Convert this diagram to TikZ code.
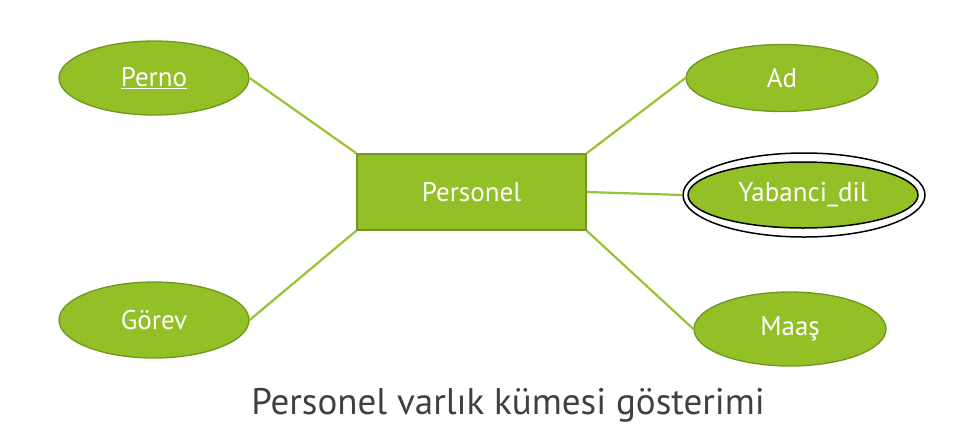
\documentclass[tikz,border=0pt]{standalone}
\usepackage{fontspec}
\setmainfont{PT Sans}
\usetikzlibrary{shapes.geometric}
\definecolor{gfill}{RGB}{146,192,38}
\definecolor{gdraw}{RGB}{112,150,30}
\definecolor{gline}{RGB}{150,196,50}
\definecolor{captc}{RGB}{64,64,64}
\begin{document}
\begin{tikzpicture}[x=1pt,y=-1pt,
  attr/.style={ellipse,draw=gdraw,fill=gfill,line width=1.3pt,inner sep=0pt,text=white,font=\fontsize{27}{32}\selectfont},
  ent/.style={rectangle,draw=gdraw,fill=gfill,line width=1.6pt,inner sep=0pt,text=white,font=\fontsize{27}{32}\selectfont},
  conn/.style={draw=gline,line width=2.2pt}]
\useasboundingbox (0,0) rectangle (960,432);
\node[ent,minimum width=229pt,minimum height=76pt] (pers) at (471.5,192) {Personel};
\node[attr,minimum width=190pt,minimum height=74pt] (perno) at (154,78) {\underline{Perno}};
\node[attr,minimum width=192pt,minimum height=67pt] (ad) at (782,78) {Ad};
\node[ellipse,draw=black,line width=1.5pt,fill=white,minimum width=242pt,minimum height=84pt,inner sep=0pt] (yabo) at (804,195) {};
\node[ellipse,draw=black,line width=1.5pt,fill=gfill,minimum width=230pt,minimum height=66pt,inner sep=0pt,text=white,font=\fontsize{27}{32}\selectfont] (yab) at (803,195) {Yabanci\_dil};
\node[attr,minimum width=190pt,minimum height=76pt] (gorev) at (154,320) {Görev};
\node[attr,minimum width=192pt,minimum height=74pt] (maas) at (790,329) {Maaş};
\draw[conn] (perno.east) -- (pers.north west);
\draw[conn] (ad.west) -- (pers.north east);
\draw[conn] (pers.east) -- (yabo.west);
\draw[conn] (gorev.east) -- (pers.south west);
\draw[conn] (pers.south east) -- (maas.west);
\node[text=captc,font=\fontsize{37}{42}\selectfont] (cap) at (508,405) {Personel varlık kümesi gösterimi};
\end{tikzpicture}
\end{document}
